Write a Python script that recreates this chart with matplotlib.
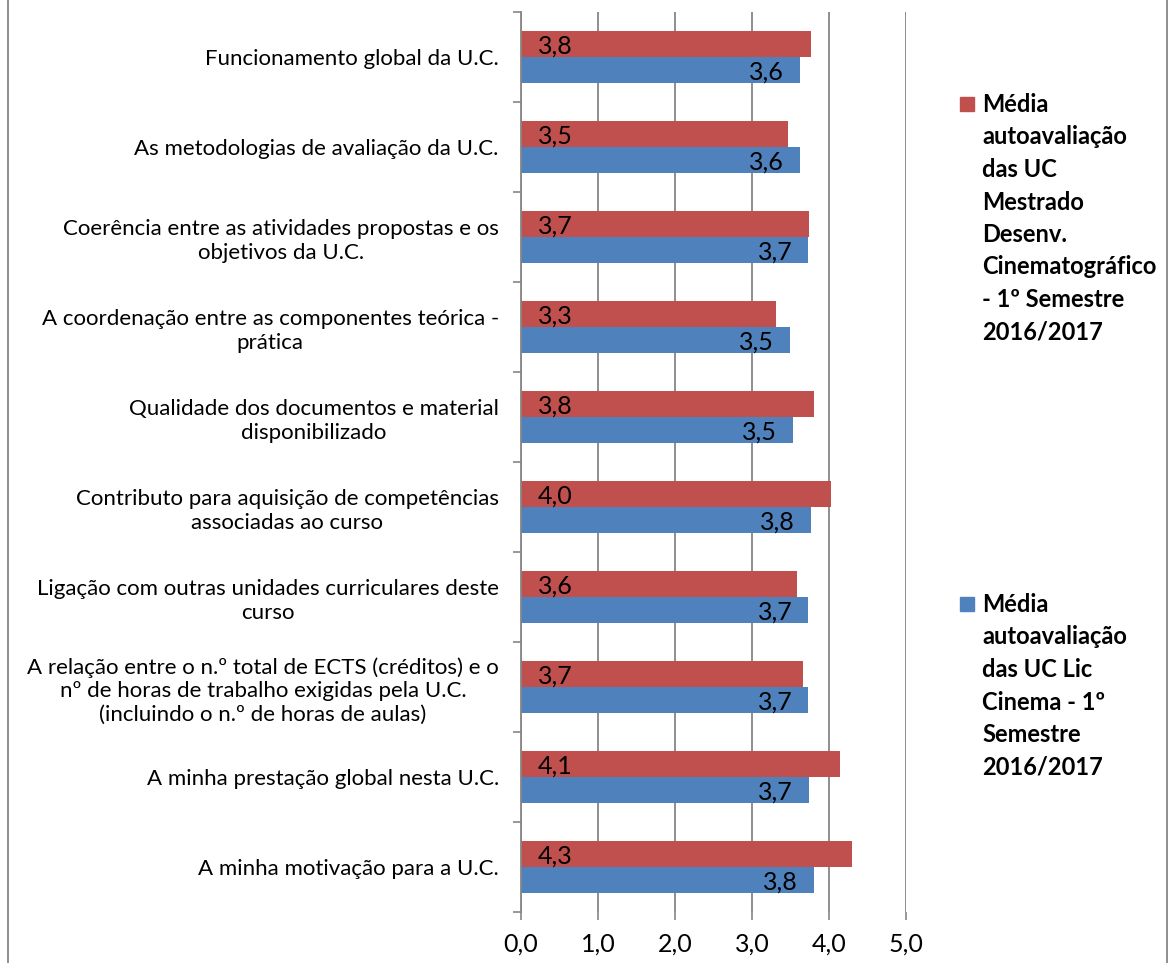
import numpy as np
import matplotlib
matplotlib.use("Agg")
import matplotlib.pyplot as plt
from matplotlib.patches import Rectangle

plt.rcParams['font.family'] = ['Lato', 'DejaVu Sans']

# categories, top to bottom
categories = [
    "Funcionamento global da U.C.",
    "As metodologias de avaliação da U.C.",
    "Coerência entre as atividades propostas e os\nobjetivos da U.C.",
    "A coordenação entre as componentes teórica -\nprática",
    "Qualidade dos documentos e material\ndisponibilizado",
    "Contributo para aquisição de competências\nassociadas ao curso",
    "Ligação com outras unidades curriculares deste\ncurso",
    "A relação entre o n.º total de ECTS (créditos) e o\nnº de horas de trabalho exigidas pela U.C.\n(incluindo o n.º de horas de aulas)",
    "A minha prestação global nesta U.C.",
    "A minha motivação para a U.C.",
]
mestrado = [3.76, 3.47, 3.74, 3.31, 3.81, 4.03, 3.58, 3.66, 4.14, 4.30]
licenciatura = [3.62, 3.62, 3.73, 3.49, 3.53, 3.76, 3.73, 3.73, 3.74, 3.80]

label_mestrado = "Média\nautoavaliação\ndas UC\nMestrado\nDesenv.\nCinematográfico\n- 1º Semestre\n2016/2017"
label_lic = "Média\nautoavaliação\ndas UC Lic\nCinema - 1º\nSemestre\n2016/2017"

red = "#C0504D"
blue = "#4F81BD"
gray = "#868686"

fig = plt.figure(figsize=(11.69, 9.63), dpi=100)
ax = fig.add_axes([521/1169, 1-912/963, 385/1169, 900/963])

y = np.arange(len(categories))
h = 0.285
ax.barh(y - h/2, mestrado, height=h, color=red, zorder=3)
ax.barh(y + h/2, licenciatura, height=h, color=blue, zorder=3)

# data labels: red at base, blue inside end
for yi, v in zip(y, mestrado):
    ax.annotate(f"{v:.1f}".replace(".", ","), (0, yi - h/2), xytext=(12, 0),
                textcoords="offset points", ha="left", va="center_baseline",
                fontsize=18, zorder=4)
for yi, v in zip(y, licenciatura):
    ax.annotate(f"{v:.1f}".replace(".", ","), (v, yi + h/2), xytext=(-11.5, 0),
                textcoords="offset points", ha="right", va="center_baseline",
                fontsize=18, zorder=4)

ax.set_xlim(0, 5)
ax.set_ylim(len(categories) - 0.5, -0.5)
ax.set_xticks(np.arange(0, 6, 1))
ax.set_xticklabels([f"{t:.1f}".replace(".", ",") for t in range(6)], fontsize=18)
ax.set_yticks(y)
ax.set_yticklabels(categories, fontsize=16, multialignment="center", linespacing=1.22)
ax.set_yticks(np.arange(-0.5, len(categories)), minor=True)
ax.tick_params(axis="y", which="major", length=0, pad=16)
ax.tick_params(axis="y", which="minor", length=6, width=1.2, color=gray)
ax.tick_params(axis="x", length=6, width=1.2, color=gray, pad=9)

ax.grid(axis="x", color=gray, linewidth=1.3, zorder=0)
for s in ["top", "right", "bottom"]:
    ax.spines[s].set_visible(False)
ax.spines["left"].set_color(gray)
ax.spines["left"].set_linewidth(1.3)
ax.spines["left"].set_zorder(5)

# legend drawn by hand
W, H = 1169, 963
for ytop, col, txt in [(97, red, label_mestrado), (597, blue, label_lic)]:
    fig.add_artist(Rectangle((960/W, 1-(ytop+14)/H), 14/W, 14/H,
                             transform=fig.transFigure, color=col))
    fig.text(982/W, 1-(ytop-4)/H, txt, fontsize=17, fontweight="bold",
             va="top", ha="left", linespacing=1.5)

# chart frame
fig.add_artist(Rectangle((8/W, -0.05), (1167-8)/W, 1.1, transform=fig.transFigure,
                         fill=False, edgecolor=gray, linewidth=1.3))

fig.savefig("out.png", dpi=100)
